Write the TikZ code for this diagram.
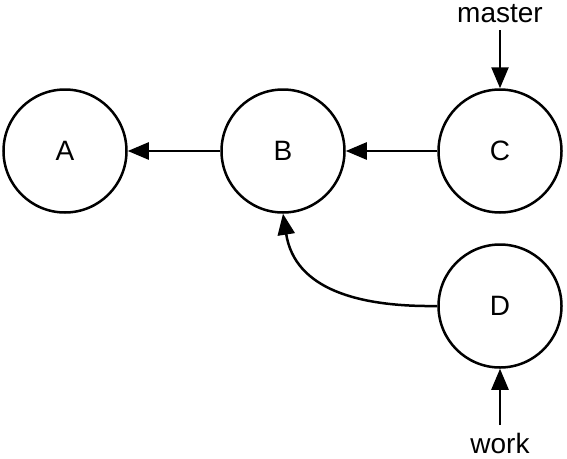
\documentclass[tikz,border=0pt]{standalone}
\usepackage{fontspec}
\setmainfont{Liberation Sans}
\usetikzlibrary{arrows.meta}
\begin{document}
\begin{tikzpicture}[x=1pt,y=-1pt,
  commit/.style={circle,draw,line width=2.5pt,minimum size=123pt,inner sep=0pt,font=\fontsize{28}{32}\selectfont},
  lbl/.style={inner sep=0pt,font=\fontsize{28}{32}\selectfont},
  conn/.style={line width=2.5pt,-{Triangle[length=21pt,width=17pt]}}]
\useasboundingbox (0,0) rectangle (567,458);
\node[commit] (A) at (65,151) {A};
\node[commit] (B) at (283,151) {B};
\node[commit] (C) at (500,151) {C};
\node[commit] (D) at (500,306) {D};
\node[lbl,anchor=base] (m) at (500,22) {master};
\node[lbl,anchor=base] (w) at (500,453) {work};
\coordinate (mt) at (500,30);
\coordinate (wt) at (500,425);
\draw[conn] (B) -- (A);
\draw[conn] (C) -- (B);
\draw[conn] (D.west) .. controls (360,307) and (295,290) .. (B.south);
\draw[conn] (mt) -- (C);
\draw[conn] (wt) -- (D);
\end{tikzpicture}
\end{document}
